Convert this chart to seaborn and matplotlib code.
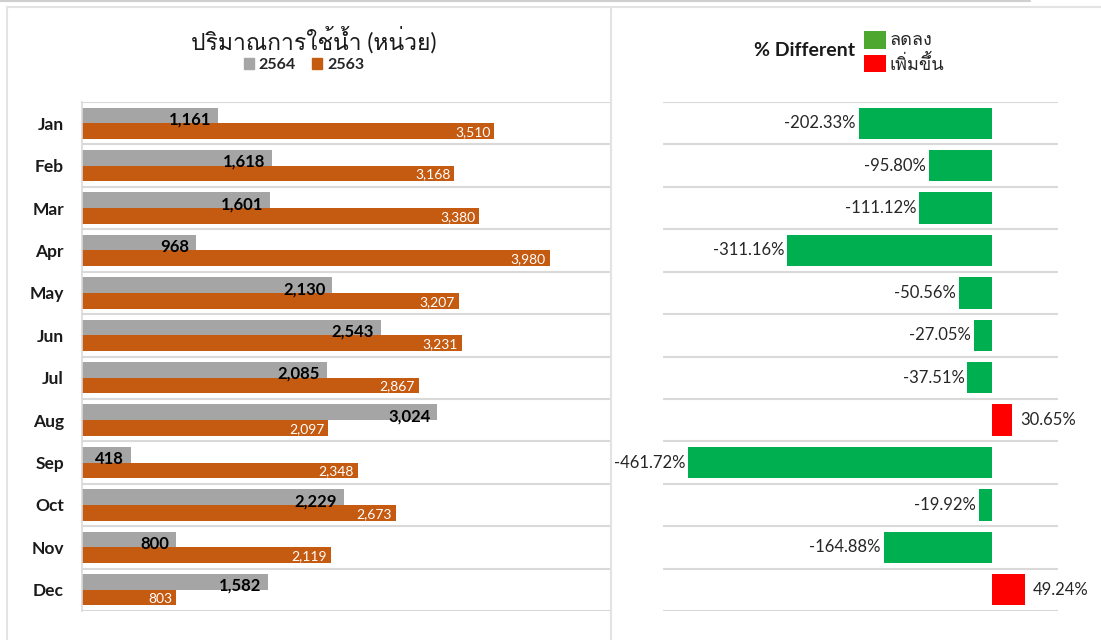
import numpy as np
import pandas as pd
import matplotlib
matplotlib.use("Agg")
import matplotlib.pyplot as plt
import seaborn as sns
from matplotlib import font_manager
from matplotlib.ft2font import FT2Font
from matplotlib.lines import Line2D
from matplotlib.patches import Patch, Rectangle

# ---------------- data ----------------
months = ["Jan", "Feb", "Mar", "Apr", "May", "Jun",
          "Jul", "Aug", "Sep", "Oct", "Nov", "Dec"]
usage_2564 = [1161, 1618, 1601, 968, 2130, 2543, 2085, 3024, 418, 2229, 800, 1582]
usage_2563 = [3510, 3168, 3380, 3980, 3207, 3231, 2867, 2097, 2348, 2673, 2119, 803]
pct_diff = [-202.33, -95.80, -111.12, -311.16, -50.56, -27.05,
            -37.51, 30.65, -461.72, -19.92, -164.88, 49.24]
years = ["2564", "2563"]
dir_labels = ["ลดลง", "เพิ่มขึ้น"]
title_left = "ปริมาณการใช้น้ำ (หน่วย)"
title_right = "% Different"

# ---------------- fonts ----------------
sns.set_theme(style="white")
thai_fonts = []
for f in font_manager.fontManager.ttflist:
    try:
        if 0x0E1B in FT2Font(f.fname).get_charmap() and f.name not in thai_fonts:
            thai_fonts.append(f.name)
    except Exception:
        pass
families = ["Lato"] + thai_fonts + ["DejaVu Sans"]
plt.rcParams["font.family"] = families

W, H = 1101, 640
fig = plt.figure(figsize=(W / 100, H / 100), dpi=100)
fig.patch.set_facecolor("white")


def fx(px):
    return px / W


def fy(py):
    return 1 - py / H


GRID = "#D9D9D9"
GRAY = "#A5A5A5"
ORANGE = "#C55A11"
GREEN = "#00B050"
RED = "#FF0000"
LEG_GREEN = "#4EA72E"

# ---------------- left panel ----------------
axL = fig.add_axes([fx(82), fy(611), fx(612) - fx(82), fy(102) - fy(611)])
dfL = pd.DataFrame({
    "month": months * 2,
    "year": [years[0]] * len(months) + [years[1]] * len(months),
    "value": usage_2564 + usage_2563,
})
sns.barplot(data=dfL, x="value", y="month", hue="year", hue_order=years,
            palette={years[0]: GRAY, years[1]: ORANGE}, orient="h",
            width=0.74, saturation=1, errorbar=None, legend=False, ax=axL,
            linewidth=0)
axL.set_xlim(0, 4510)
axL.set_ylim(len(months) - 0.5, -0.5)
axL.set_xlabel("")
axL.set_ylabel("")
axL.set_xticks([])
axL.set_yticks(np.arange(len(months) + 1) - 0.5, minor=True)
axL.grid(True, which="minor", axis="y", color=GRID, lw=1.5)
axL.tick_params(axis="y", which="both", length=0, pad=13)
for lab in axL.get_yticklabels():
    lab.set_fontweight("bold")
    lab.set_fontsize(12.5)
    lab.set_color("#1a1a1a")
for s in ["top", "right", "bottom"]:
    axL.spines[s].set_visible(False)
axL.spines["left"].set_color(GRID)
axL.spines["left"].set_linewidth(1.2)

for p, v in zip(axL.containers[0], usage_2564):
    axL.annotate(f"{v:,}", xy=(p.get_width(), p.get_y() + p.get_height() / 2),
                 xytext=(-7, -4), textcoords="offset pixels", ha="right", va="center",
                 fontsize=12, fontweight="bold", color="black")
for p, v in zip(axL.containers[1], usage_2563):
    axL.annotate(f"{v:,}", xy=(p.get_width(), p.get_y() + p.get_height() / 2),
                 xytext=(-4, -1), textcoords="offset pixels", ha="right", va="center",
                 fontsize=10, color="white")

fig.text(fx(314), fy(40), title_left, ha="center", va="center", fontsize=16.5, color="#1a1a1a")
fig.legend(handles=[Patch(color=GRAY), Patch(color=ORANGE)], labels=years,
           loc="center", bbox_to_anchor=(fx(304), fy(65)), ncol=2, frameon=False,
           handlelength=0.65, handleheight=0.65, handletextpad=0.3, columnspacing=1.0,
           prop={"weight": "bold", "size": 11.5, "family": families})

# ---------------- right panel ----------------
axR = fig.add_axes([fx(663), fy(611), fx(1058) - fx(663), fy(102) - fy(611)])
direction = [dir_labels[0] if v < 0 else dir_labels[1] for v in pct_diff]
dfR = pd.DataFrame({"month": months, "pct": pct_diff, "dir": direction})
sns.barplot(data=dfR, x="pct", y="month", hue="dir", hue_order=dir_labels,
            palette={dir_labels[0]: GREEN, dir_labels[1]: RED}, orient="h",
            dodge=False, width=0.74, saturation=1, errorbar=None, legend=False,
            ax=axR, linewidth=0)
axR.set_xlim(-500, 100)
axR.set_ylim(len(months) - 0.5, -0.5)
axR.set_xlabel("")
axR.set_ylabel("")
axR.set_xticks([])
axR.set_yticks([])
axR.set_yticks(np.arange(len(months) + 1) - 0.5, minor=True)
axR.grid(True, which="minor", axis="y", color=GRID, lw=1.5)
axR.tick_params(axis="y", which="both", length=0, labelleft=False)
for s in axR.spines.values():
    s.set_visible(False)

for i, v in enumerate(pct_diff):
    if v < 0:
        axR.annotate(f"{v:.2f}%", xy=(v, i), xytext=(-3, 0), textcoords="offset pixels",
                     ha="right", va="center", fontsize=12, color="#262626")
    else:
        axR.annotate(f"{v:.2f}%", xy=(v, i), xytext=(8, 0), textcoords="offset pixels",
                     ha="left", va="center", fontsize=12, color="#262626")

fig.text(fx(855), fy(50), title_right, ha="right", va="center", fontsize=14,
         fontweight="bold", color="#1a1a1a")
for (y0, y1), c, lab in zip([(31, 49), (55, 72)], [LEG_GREEN, RED], dir_labels):
    fig.add_artist(Rectangle((fx(864), fy(y1)), fx(886) - fx(864), fy(y0) - fy(y1),
                             transform=fig.transFigure, facecolor=c, edgecolor="none"))
    fig.text(fx(890), fy((y0 + y1) / 2), lab, ha="left", va="center", fontsize=13,
             color="#262626")

# ---------------- frame lines ----------------
for xs, ys, c in [([0, 1030], [1, 1], "#CFCFCF"),
                  ([7, W], [7, 7], "#E3E3E3"),
                  ([7, 7], [7, H], "#E3E3E3"),
                  ([611, 611], [7, H], "#E3E3E3")]:
    fig.add_artist(Line2D([fx(x) for x in xs], [fy(y) for y in ys],
                          transform=fig.transFigure, color=c, lw=1.5))

fig.savefig("out.png", dpi=100, facecolor="white")
